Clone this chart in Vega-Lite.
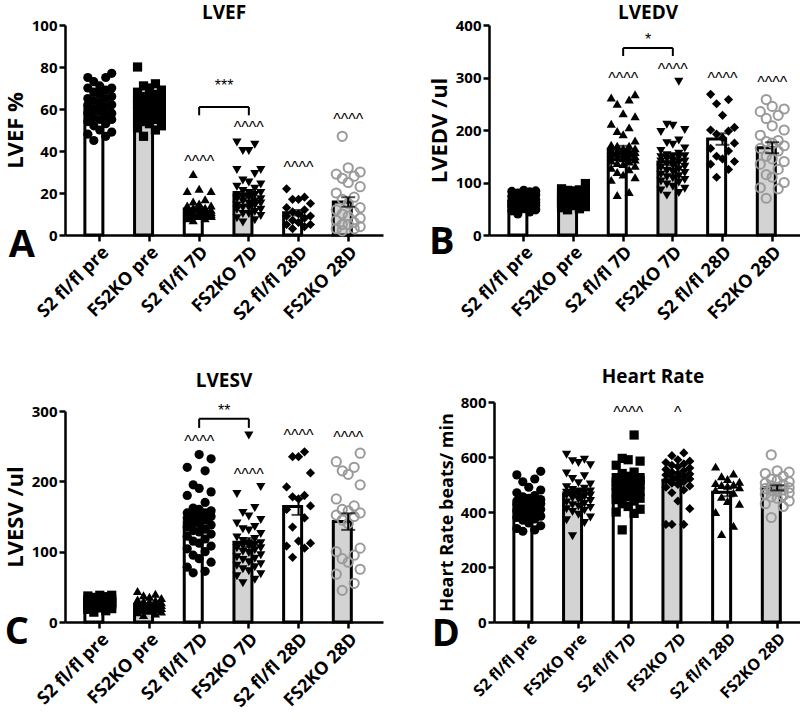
{
"$schema": "https://vega.github.io/schema/vega-lite/v6.json",
"padding": {"left": 4, "top": 4, "right": 0, "bottom": 0},
"config": {
 "font": "Open Sans",
 "view": {"stroke": null},
 "scale": {"bandPaddingInner": 0.4, "bandPaddingOuter": 0.4, "bandWithNestedOffsetPaddingInner": 0.4, "bandWithNestedOffsetPaddingOuter": 0.4, "offsetBandPaddingInner": 0, "offsetBandPaddingOuter": 0},
 "axis": {"grid": false, "domainColor": "black", "domainWidth": 2.5, "tickColor": "black", "tickWidth": 2.5, "tickSize": 6, "labelColor": "black", "labelFontWeight": "bold", "labelFontSize": 15, "labelFont": "Open Sans", "titleColor": "black", "titleFontWeight": "bold", "titleFontSize": 22, "titleFont": "Open Sans", "titlePadding": 4, "labelOverlap": false},
 "title": {"fontSize": 19, "fontWeight": "bold", "color": "black", "font": "Open Sans"}
},
"datasets": {
 "pts": [
{"p":"A","g":"S2 fl/fl pre","v":77},{"p":"A","g":"S2 fl/fl pre","v":75},{"p":"A","g":"S2 fl/fl pre","v":75},{"p":"A","g":"S2 fl/fl pre","v":73},{"p":"A","g":"S2 fl/fl pre","v":71},{"p":"A","g":"S2 fl/fl pre","v":70},{"p":"A","g":"S2 fl/fl pre","v":70},{"p":"A","g":"S2 fl/fl pre","v":69},{"p":"A","g":"S2 fl/fl pre","v":68},{"p":"A","g":"S2 fl/fl pre","v":67},{"p":"A","g":"S2 fl/fl pre","v":66},{"p":"A","g":"S2 fl/fl pre","v":65},{"p":"A","g":"S2 fl/fl pre","v":65},{"p":"A","g":"S2 fl/fl pre","v":64},{"p":"A","g":"S2 fl/fl pre","v":63},{"p":"A","g":"S2 fl/fl pre","v":62},{"p":"A","g":"S2 fl/fl pre","v":62},{"p":"A","g":"S2 fl/fl pre","v":61},{"p":"A","g":"S2 fl/fl pre","v":60},{"p":"A","g":"S2 fl/fl pre","v":59},{"p":"A","g":"S2 fl/fl pre","v":58},{"p":"A","g":"S2 fl/fl pre","v":58},{"p":"A","g":"S2 fl/fl pre","v":57},{"p":"A","g":"S2 fl/fl pre","v":56},{"p":"A","g":"S2 fl/fl pre","v":55},{"p":"A","g":"S2 fl/fl pre","v":55},{"p":"A","g":"S2 fl/fl pre","v":54},{"p":"A","g":"S2 fl/fl pre","v":53},{"p":"A","g":"S2 fl/fl pre","v":52},{"p":"A","g":"S2 fl/fl pre","v":50},{"p":"A","g":"S2 fl/fl pre","v":49},{"p":"A","g":"S2 fl/fl pre","v":48},{"p":"A","g":"S2 fl/fl pre","v":47},{"p":"A","g":"S2 fl/fl pre","v":45},
{"p":"A","g":"FS2KO pre","v":80},{"p":"A","g":"FS2KO pre","v":72},{"p":"A","g":"FS2KO pre","v":71},{"p":"A","g":"FS2KO pre","v":70},{"p":"A","g":"FS2KO pre","v":69},{"p":"A","g":"FS2KO pre","v":68},{"p":"A","g":"FS2KO pre","v":67},{"p":"A","g":"FS2KO pre","v":66},{"p":"A","g":"FS2KO pre","v":66},{"p":"A","g":"FS2KO pre","v":65},{"p":"A","g":"FS2KO pre","v":64},{"p":"A","g":"FS2KO pre","v":64},{"p":"A","g":"FS2KO pre","v":63},{"p":"A","g":"FS2KO pre","v":63},{"p":"A","g":"FS2KO pre","v":62},{"p":"A","g":"FS2KO pre","v":62},{"p":"A","g":"FS2KO pre","v":61},{"p":"A","g":"FS2KO pre","v":61},{"p":"A","g":"FS2KO pre","v":60},{"p":"A","g":"FS2KO pre","v":60},{"p":"A","g":"FS2KO pre","v":59},{"p":"A","g":"FS2KO pre","v":58},{"p":"A","g":"FS2KO pre","v":58},{"p":"A","g":"FS2KO pre","v":57},{"p":"A","g":"FS2KO pre","v":56},{"p":"A","g":"FS2KO pre","v":55},{"p":"A","g":"FS2KO pre","v":55},{"p":"A","g":"FS2KO pre","v":54},{"p":"A","g":"FS2KO pre","v":53},{"p":"A","g":"FS2KO pre","v":52},{"p":"A","g":"FS2KO pre","v":51},{"p":"A","g":"FS2KO pre","v":50},{"p":"A","g":"FS2KO pre","v":47},
{"p":"A","g":"S2 fl/fl 7D","v":29},{"p":"A","g":"S2 fl/fl 7D","v":22},{"p":"A","g":"S2 fl/fl 7D","v":21},{"p":"A","g":"S2 fl/fl 7D","v":21},{"p":"A","g":"S2 fl/fl 7D","v":17},{"p":"A","g":"S2 fl/fl 7D","v":16},{"p":"A","g":"S2 fl/fl 7D","v":15},{"p":"A","g":"S2 fl/fl 7D","v":14},{"p":"A","g":"S2 fl/fl 7D","v":14},{"p":"A","g":"S2 fl/fl 7D","v":13},{"p":"A","g":"S2 fl/fl 7D","v":13},{"p":"A","g":"S2 fl/fl 7D","v":13},{"p":"A","g":"S2 fl/fl 7D","v":12},{"p":"A","g":"S2 fl/fl 7D","v":12},{"p":"A","g":"S2 fl/fl 7D","v":12},{"p":"A","g":"S2 fl/fl 7D","v":12},{"p":"A","g":"S2 fl/fl 7D","v":11},{"p":"A","g":"S2 fl/fl 7D","v":11},{"p":"A","g":"S2 fl/fl 7D","v":11},{"p":"A","g":"S2 fl/fl 7D","v":11},{"p":"A","g":"S2 fl/fl 7D","v":10},{"p":"A","g":"S2 fl/fl 7D","v":10},{"p":"A","g":"S2 fl/fl 7D","v":10},{"p":"A","g":"S2 fl/fl 7D","v":10},{"p":"A","g":"S2 fl/fl 7D","v":9},{"p":"A","g":"S2 fl/fl 7D","v":9},{"p":"A","g":"S2 fl/fl 7D","v":9},{"p":"A","g":"S2 fl/fl 7D","v":9},{"p":"A","g":"S2 fl/fl 7D","v":10},{"p":"A","g":"S2 fl/fl 7D","v":10},{"p":"A","g":"S2 fl/fl 7D","v":9},{"p":"A","g":"S2 fl/fl 7D","v":9},{"p":"A","g":"S2 fl/fl 7D","v":9},{"p":"A","g":"S2 fl/fl 7D","v":8},{"p":"A","g":"S2 fl/fl 7D","v":8},{"p":"A","g":"S2 fl/fl 7D","v":7},
{"p":"A","g":"FS2KO 7D","v":44},{"p":"A","g":"FS2KO 7D","v":43},{"p":"A","g":"FS2KO 7D","v":40},{"p":"A","g":"FS2KO 7D","v":40},{"p":"A","g":"FS2KO 7D","v":31},{"p":"A","g":"FS2KO 7D","v":31},{"p":"A","g":"FS2KO 7D","v":29},{"p":"A","g":"FS2KO 7D","v":26},{"p":"A","g":"FS2KO 7D","v":25},{"p":"A","g":"FS2KO 7D","v":24},{"p":"A","g":"FS2KO 7D","v":23},{"p":"A","g":"FS2KO 7D","v":22},{"p":"A","g":"FS2KO 7D","v":21},{"p":"A","g":"FS2KO 7D","v":20},{"p":"A","g":"FS2KO 7D","v":20},{"p":"A","g":"FS2KO 7D","v":19},{"p":"A","g":"FS2KO 7D","v":19},{"p":"A","g":"FS2KO 7D","v":18},{"p":"A","g":"FS2KO 7D","v":18},{"p":"A","g":"FS2KO 7D","v":17},{"p":"A","g":"FS2KO 7D","v":17},{"p":"A","g":"FS2KO 7D","v":16},{"p":"A","g":"FS2KO 7D","v":16},{"p":"A","g":"FS2KO 7D","v":15},{"p":"A","g":"FS2KO 7D","v":15},{"p":"A","g":"FS2KO 7D","v":14},{"p":"A","g":"FS2KO 7D","v":14},{"p":"A","g":"FS2KO 7D","v":13},{"p":"A","g":"FS2KO 7D","v":13},{"p":"A","g":"FS2KO 7D","v":12},{"p":"A","g":"FS2KO 7D","v":12},{"p":"A","g":"FS2KO 7D","v":11},{"p":"A","g":"FS2KO 7D","v":10},{"p":"A","g":"FS2KO 7D","v":10},{"p":"A","g":"FS2KO 7D","v":9},{"p":"A","g":"FS2KO 7D","v":8},{"p":"A","g":"FS2KO 7D","v":7},{"p":"A","g":"FS2KO 7D","v":6},
{"p":"A","g":"S2 fl/fl 28D","v":22},{"p":"A","g":"S2 fl/fl 28D","v":18},{"p":"A","g":"S2 fl/fl 28D","v":17},{"p":"A","g":"S2 fl/fl 28D","v":17},{"p":"A","g":"S2 fl/fl 28D","v":15},{"p":"A","g":"S2 fl/fl 28D","v":13},{"p":"A","g":"S2 fl/fl 28D","v":12},{"p":"A","g":"S2 fl/fl 28D","v":11},{"p":"A","g":"S2 fl/fl 28D","v":10},{"p":"A","g":"S2 fl/fl 28D","v":9},{"p":"A","g":"S2 fl/fl 28D","v":9},{"p":"A","g":"S2 fl/fl 28D","v":8},{"p":"A","g":"S2 fl/fl 28D","v":7},{"p":"A","g":"S2 fl/fl 28D","v":6},{"p":"A","g":"S2 fl/fl 28D","v":5},{"p":"A","g":"S2 fl/fl 28D","v":5},{"p":"A","g":"S2 fl/fl 28D","v":4},{"p":"A","g":"S2 fl/fl 28D","v":3},
{"p":"A","g":"FS2KO 28D","v":47},{"p":"A","g":"FS2KO 28D","v":32},{"p":"A","g":"FS2KO 28D","v":30},{"p":"A","g":"FS2KO 28D","v":29},{"p":"A","g":"FS2KO 28D","v":28},{"p":"A","g":"FS2KO 28D","v":27},{"p":"A","g":"FS2KO 28D","v":25},{"p":"A","g":"FS2KO 28D","v":23},{"p":"A","g":"FS2KO 28D","v":20},{"p":"A","g":"FS2KO 28D","v":18},{"p":"A","g":"FS2KO 28D","v":17},{"p":"A","g":"FS2KO 28D","v":15},{"p":"A","g":"FS2KO 28D","v":13},{"p":"A","g":"FS2KO 28D","v":12},{"p":"A","g":"FS2KO 28D","v":11},{"p":"A","g":"FS2KO 28D","v":10},{"p":"A","g":"FS2KO 28D","v":9},{"p":"A","g":"FS2KO 28D","v":8},{"p":"A","g":"FS2KO 28D","v":7},{"p":"A","g":"FS2KO 28D","v":6},{"p":"A","g":"FS2KO 28D","v":5},{"p":"A","g":"FS2KO 28D","v":5},{"p":"A","g":"FS2KO 28D","v":4},{"p":"A","g":"FS2KO 28D","v":3},{"p":"A","g":"FS2KO 28D","v":3},{"p":"A","g":"FS2KO 28D","v":2},
{"p":"B","g":"S2 fl/fl pre","v":85},{"p":"B","g":"S2 fl/fl pre","v":84},{"p":"B","g":"S2 fl/fl pre","v":83},{"p":"B","g":"S2 fl/fl pre","v":82},{"p":"B","g":"S2 fl/fl pre","v":80},{"p":"B","g":"S2 fl/fl pre","v":78},{"p":"B","g":"S2 fl/fl pre","v":76},{"p":"B","g":"S2 fl/fl pre","v":74},{"p":"B","g":"S2 fl/fl pre","v":72},{"p":"B","g":"S2 fl/fl pre","v":70},{"p":"B","g":"S2 fl/fl pre","v":69},{"p":"B","g":"S2 fl/fl pre","v":67},{"p":"B","g":"S2 fl/fl pre","v":66},{"p":"B","g":"S2 fl/fl pre","v":65},{"p":"B","g":"S2 fl/fl pre","v":64},{"p":"B","g":"S2 fl/fl pre","v":63},{"p":"B","g":"S2 fl/fl pre","v":62},{"p":"B","g":"S2 fl/fl pre","v":61},{"p":"B","g":"S2 fl/fl pre","v":60},{"p":"B","g":"S2 fl/fl pre","v":58},{"p":"B","g":"S2 fl/fl pre","v":57},{"p":"B","g":"S2 fl/fl pre","v":56},{"p":"B","g":"S2 fl/fl pre","v":55},{"p":"B","g":"S2 fl/fl pre","v":54},{"p":"B","g":"S2 fl/fl pre","v":52},{"p":"B","g":"S2 fl/fl pre","v":50},{"p":"B","g":"S2 fl/fl pre","v":48},{"p":"B","g":"S2 fl/fl pre","v":46},{"p":"B","g":"S2 fl/fl pre","v":44},{"p":"B","g":"S2 fl/fl pre","v":40},
{"p":"B","g":"FS2KO pre","v":98},{"p":"B","g":"FS2KO pre","v":88},{"p":"B","g":"FS2KO pre","v":86},{"p":"B","g":"FS2KO pre","v":85},{"p":"B","g":"FS2KO pre","v":84},{"p":"B","g":"FS2KO pre","v":82},{"p":"B","g":"FS2KO pre","v":80},{"p":"B","g":"FS2KO pre","v":78},{"p":"B","g":"FS2KO pre","v":76},{"p":"B","g":"FS2KO pre","v":75},{"p":"B","g":"FS2KO pre","v":74},{"p":"B","g":"FS2KO pre","v":72},{"p":"B","g":"FS2KO pre","v":71},{"p":"B","g":"FS2KO pre","v":70},{"p":"B","g":"FS2KO pre","v":68},{"p":"B","g":"FS2KO pre","v":67},{"p":"B","g":"FS2KO pre","v":66},{"p":"B","g":"FS2KO pre","v":65},{"p":"B","g":"FS2KO pre","v":64},{"p":"B","g":"FS2KO pre","v":63},{"p":"B","g":"FS2KO pre","v":62},{"p":"B","g":"FS2KO pre","v":61},{"p":"B","g":"FS2KO pre","v":60},{"p":"B","g":"FS2KO pre","v":58},{"p":"B","g":"FS2KO pre","v":56},{"p":"B","g":"FS2KO pre","v":54},{"p":"B","g":"FS2KO pre","v":52},{"p":"B","g":"FS2KO pre","v":50},{"p":"B","g":"FS2KO pre","v":48},
{"p":"B","g":"S2 fl/fl 7D","v":268},{"p":"B","g":"S2 fl/fl 7D","v":262},{"p":"B","g":"S2 fl/fl 7D","v":258},{"p":"B","g":"S2 fl/fl 7D","v":250},{"p":"B","g":"S2 fl/fl 7D","v":232},{"p":"B","g":"S2 fl/fl 7D","v":226},{"p":"B","g":"S2 fl/fl 7D","v":212},{"p":"B","g":"S2 fl/fl 7D","v":205},{"p":"B","g":"S2 fl/fl 7D","v":198},{"p":"B","g":"S2 fl/fl 7D","v":192},{"p":"B","g":"S2 fl/fl 7D","v":180},{"p":"B","g":"S2 fl/fl 7D","v":172},{"p":"B","g":"S2 fl/fl 7D","v":170},{"p":"B","g":"S2 fl/fl 7D","v":170},{"p":"B","g":"S2 fl/fl 7D","v":165},{"p":"B","g":"S2 fl/fl 7D","v":165},{"p":"B","g":"S2 fl/fl 7D","v":160},{"p":"B","g":"S2 fl/fl 7D","v":155},{"p":"B","g":"S2 fl/fl 7D","v":150},{"p":"B","g":"S2 fl/fl 7D","v":148},{"p":"B","g":"S2 fl/fl 7D","v":163},{"p":"B","g":"S2 fl/fl 7D","v":162},{"p":"B","g":"S2 fl/fl 7D","v":160},{"p":"B","g":"S2 fl/fl 7D","v":158},{"p":"B","g":"S2 fl/fl 7D","v":156},{"p":"B","g":"S2 fl/fl 7D","v":155},{"p":"B","g":"S2 fl/fl 7D","v":153},{"p":"B","g":"S2 fl/fl 7D","v":150},{"p":"B","g":"S2 fl/fl 7D","v":148},{"p":"B","g":"S2 fl/fl 7D","v":146},{"p":"B","g":"S2 fl/fl 7D","v":144},{"p":"B","g":"S2 fl/fl 7D","v":142},{"p":"B","g":"S2 fl/fl 7D","v":140},{"p":"B","g":"S2 fl/fl 7D","v":137},{"p":"B","g":"S2 fl/fl 7D","v":135},{"p":"B","g":"S2 fl/fl 7D","v":132},{"p":"B","g":"S2 fl/fl 7D","v":128},{"p":"B","g":"S2 fl/fl 7D","v":125},{"p":"B","g":"S2 fl/fl 7D","v":120},{"p":"B","g":"S2 fl/fl 7D","v":115},{"p":"B","g":"S2 fl/fl 7D","v":110},{"p":"B","g":"S2 fl/fl 7D","v":105},{"p":"B","g":"S2 fl/fl 7D","v":82},{"p":"B","g":"S2 fl/fl 7D","v":76},
{"p":"B","g":"FS2KO 7D","v":292},{"p":"B","g":"FS2KO 7D","v":210},{"p":"B","g":"FS2KO 7D","v":208},{"p":"B","g":"FS2KO 7D","v":200},{"p":"B","g":"FS2KO 7D","v":196},{"p":"B","g":"FS2KO 7D","v":180},{"p":"B","g":"FS2KO 7D","v":175},{"p":"B","g":"FS2KO 7D","v":172},{"p":"B","g":"FS2KO 7D","v":165},{"p":"B","g":"FS2KO 7D","v":160},{"p":"B","g":"FS2KO 7D","v":155},{"p":"B","g":"FS2KO 7D","v":150},{"p":"B","g":"FS2KO 7D","v":148},{"p":"B","g":"FS2KO 7D","v":140},{"p":"B","g":"FS2KO 7D","v":152},{"p":"B","g":"FS2KO 7D","v":150},{"p":"B","g":"FS2KO 7D","v":148},{"p":"B","g":"FS2KO 7D","v":145},{"p":"B","g":"FS2KO 7D","v":142},{"p":"B","g":"FS2KO 7D","v":140},{"p":"B","g":"FS2KO 7D","v":138},{"p":"B","g":"FS2KO 7D","v":135},{"p":"B","g":"FS2KO 7D","v":132},{"p":"B","g":"FS2KO 7D","v":130},{"p":"B","g":"FS2KO 7D","v":128},{"p":"B","g":"FS2KO 7D","v":125},{"p":"B","g":"FS2KO 7D","v":122},{"p":"B","g":"FS2KO 7D","v":120},{"p":"B","g":"FS2KO 7D","v":118},{"p":"B","g":"FS2KO 7D","v":115},{"p":"B","g":"FS2KO 7D","v":112},{"p":"B","g":"FS2KO 7D","v":110},{"p":"B","g":"FS2KO 7D","v":108},{"p":"B","g":"FS2KO 7D","v":105},{"p":"B","g":"FS2KO 7D","v":102},{"p":"B","g":"FS2KO 7D","v":100},{"p":"B","g":"FS2KO 7D","v":96},{"p":"B","g":"FS2KO 7D","v":92},{"p":"B","g":"FS2KO 7D","v":88},{"p":"B","g":"FS2KO 7D","v":85},{"p":"B","g":"FS2KO 7D","v":80},{"p":"B","g":"FS2KO 7D","v":75},
{"p":"B","g":"S2 fl/fl 28D","v":268},{"p":"B","g":"S2 fl/fl 28D","v":258},{"p":"B","g":"S2 fl/fl 28D","v":250},{"p":"B","g":"S2 fl/fl 28D","v":228},{"p":"B","g":"S2 fl/fl 28D","v":205},{"p":"B","g":"S2 fl/fl 28D","v":200},{"p":"B","g":"S2 fl/fl 28D","v":198},{"p":"B","g":"S2 fl/fl 28D","v":192},{"p":"B","g":"S2 fl/fl 28D","v":185},{"p":"B","g":"S2 fl/fl 28D","v":175},{"p":"B","g":"S2 fl/fl 28D","v":165},{"p":"B","g":"S2 fl/fl 28D","v":160},{"p":"B","g":"S2 fl/fl 28D","v":150},{"p":"B","g":"S2 fl/fl 28D","v":145},{"p":"B","g":"S2 fl/fl 28D","v":140},{"p":"B","g":"S2 fl/fl 28D","v":135},{"p":"B","g":"S2 fl/fl 28D","v":125},{"p":"B","g":"S2 fl/fl 28D","v":110},
{"p":"B","g":"FS2KO 28D","v":258},{"p":"B","g":"FS2KO 28D","v":245},{"p":"B","g":"FS2KO 28D","v":240},{"p":"B","g":"FS2KO 28D","v":235},{"p":"B","g":"FS2KO 28D","v":228},{"p":"B","g":"FS2KO 28D","v":222},{"p":"B","g":"FS2KO 28D","v":208},{"p":"B","g":"FS2KO 28D","v":200},{"p":"B","g":"FS2KO 28D","v":190},{"p":"B","g":"FS2KO 28D","v":180},{"p":"B","g":"FS2KO 28D","v":178},{"p":"B","g":"FS2KO 28D","v":175},{"p":"B","g":"FS2KO 28D","v":170},{"p":"B","g":"FS2KO 28D","v":165},{"p":"B","g":"FS2KO 28D","v":160},{"p":"B","g":"FS2KO 28D","v":150},{"p":"B","g":"FS2KO 28D","v":145},{"p":"B","g":"FS2KO 28D","v":140},{"p":"B","g":"FS2KO 28D","v":135},{"p":"B","g":"FS2KO 28D","v":125},{"p":"B","g":"FS2KO 28D","v":115},{"p":"B","g":"FS2KO 28D","v":110},{"p":"B","g":"FS2KO 28D","v":100},{"p":"B","g":"FS2KO 28D","v":90},{"p":"B","g":"FS2KO 28D","v":88},{"p":"B","g":"FS2KO 28D","v":70},
{"p":"C","g":"S2 fl/fl pre","v":38},{"p":"C","g":"S2 fl/fl pre","v":38},{"p":"C","g":"S2 fl/fl pre","v":37},{"p":"C","g":"S2 fl/fl pre","v":36},{"p":"C","g":"S2 fl/fl pre","v":35},{"p":"C","g":"S2 fl/fl pre","v":34},{"p":"C","g":"S2 fl/fl pre","v":33},{"p":"C","g":"S2 fl/fl pre","v":32},{"p":"C","g":"S2 fl/fl pre","v":31},{"p":"C","g":"S2 fl/fl pre","v":30},{"p":"C","g":"S2 fl/fl pre","v":30},{"p":"C","g":"S2 fl/fl pre","v":29},{"p":"C","g":"S2 fl/fl pre","v":29},{"p":"C","g":"S2 fl/fl pre","v":28},{"p":"C","g":"S2 fl/fl pre","v":28},{"p":"C","g":"S2 fl/fl pre","v":27},{"p":"C","g":"S2 fl/fl pre","v":27},{"p":"C","g":"S2 fl/fl pre","v":26},{"p":"C","g":"S2 fl/fl pre","v":26},{"p":"C","g":"S2 fl/fl pre","v":25},{"p":"C","g":"S2 fl/fl pre","v":25},{"p":"C","g":"S2 fl/fl pre","v":24},{"p":"C","g":"S2 fl/fl pre","v":23},{"p":"C","g":"S2 fl/fl pre","v":22},{"p":"C","g":"S2 fl/fl pre","v":21},{"p":"C","g":"S2 fl/fl pre","v":20},{"p":"C","g":"S2 fl/fl pre","v":19},{"p":"C","g":"S2 fl/fl pre","v":18},{"p":"C","g":"S2 fl/fl pre","v":16},{"p":"C","g":"S2 fl/fl pre","v":14},
{"p":"C","g":"FS2KO pre","v":44},{"p":"C","g":"FS2KO pre","v":40},{"p":"C","g":"FS2KO pre","v":38},{"p":"C","g":"FS2KO pre","v":36},{"p":"C","g":"FS2KO pre","v":34},{"p":"C","g":"FS2KO pre","v":32},{"p":"C","g":"FS2KO pre","v":31},{"p":"C","g":"FS2KO pre","v":30},{"p":"C","g":"FS2KO pre","v":29},{"p":"C","g":"FS2KO pre","v":28},{"p":"C","g":"FS2KO pre","v":27},{"p":"C","g":"FS2KO pre","v":26},{"p":"C","g":"FS2KO pre","v":25},{"p":"C","g":"FS2KO pre","v":25},{"p":"C","g":"FS2KO pre","v":24},{"p":"C","g":"FS2KO pre","v":23},{"p":"C","g":"FS2KO pre","v":22},{"p":"C","g":"FS2KO pre","v":22},{"p":"C","g":"FS2KO pre","v":21},{"p":"C","g":"FS2KO pre","v":20},{"p":"C","g":"FS2KO pre","v":19},{"p":"C","g":"FS2KO pre","v":18},{"p":"C","g":"FS2KO pre","v":17},{"p":"C","g":"FS2KO pre","v":16},{"p":"C","g":"FS2KO pre","v":15},{"p":"C","g":"FS2KO pre","v":14},{"p":"C","g":"FS2KO pre","v":12},{"p":"C","g":"FS2KO pre","v":10},
{"p":"C","g":"S2 fl/fl 7D","v":238},{"p":"C","g":"S2 fl/fl 7D","v":232},{"p":"C","g":"S2 fl/fl 7D","v":220},{"p":"C","g":"S2 fl/fl 7D","v":215},{"p":"C","g":"S2 fl/fl 7D","v":195},{"p":"C","g":"S2 fl/fl 7D","v":190},{"p":"C","g":"S2 fl/fl 7D","v":185},{"p":"C","g":"S2 fl/fl 7D","v":180},{"p":"C","g":"S2 fl/fl 7D","v":170},{"p":"C","g":"S2 fl/fl 7D","v":162},{"p":"C","g":"S2 fl/fl 7D","v":160},{"p":"C","g":"S2 fl/fl 7D","v":155},{"p":"C","g":"S2 fl/fl 7D","v":150},{"p":"C","g":"S2 fl/fl 7D","v":158},{"p":"C","g":"S2 fl/fl 7D","v":155},{"p":"C","g":"S2 fl/fl 7D","v":152},{"p":"C","g":"S2 fl/fl 7D","v":150},{"p":"C","g":"S2 fl/fl 7D","v":148},{"p":"C","g":"S2 fl/fl 7D","v":145},{"p":"C","g":"S2 fl/fl 7D","v":142},{"p":"C","g":"S2 fl/fl 7D","v":140},{"p":"C","g":"S2 fl/fl 7D","v":138},{"p":"C","g":"S2 fl/fl 7D","v":135},{"p":"C","g":"S2 fl/fl 7D","v":132},{"p":"C","g":"S2 fl/fl 7D","v":130},{"p":"C","g":"S2 fl/fl 7D","v":128},{"p":"C","g":"S2 fl/fl 7D","v":125},{"p":"C","g":"S2 fl/fl 7D","v":122},{"p":"C","g":"S2 fl/fl 7D","v":118},{"p":"C","g":"S2 fl/fl 7D","v":115},{"p":"C","g":"S2 fl/fl 7D","v":112},{"p":"C","g":"S2 fl/fl 7D","v":108},{"p":"C","g":"S2 fl/fl 7D","v":104},{"p":"C","g":"S2 fl/fl 7D","v":100},{"p":"C","g":"S2 fl/fl 7D","v":95},{"p":"C","g":"S2 fl/fl 7D","v":90},{"p":"C","g":"S2 fl/fl 7D","v":85},{"p":"C","g":"S2 fl/fl 7D","v":78},{"p":"C","g":"S2 fl/fl 7D","v":72},{"p":"C","g":"S2 fl/fl 7D","v":70},
{"p":"C","g":"FS2KO 7D","v":265},{"p":"C","g":"FS2KO 7D","v":192},{"p":"C","g":"FS2KO 7D","v":182},{"p":"C","g":"FS2KO 7D","v":162},{"p":"C","g":"FS2KO 7D","v":155},{"p":"C","g":"FS2KO 7D","v":150},{"p":"C","g":"FS2KO 7D","v":145},{"p":"C","g":"FS2KO 7D","v":140},{"p":"C","g":"FS2KO 7D","v":135},{"p":"C","g":"FS2KO 7D","v":132},{"p":"C","g":"FS2KO 7D","v":130},{"p":"C","g":"FS2KO 7D","v":125},{"p":"C","g":"FS2KO 7D","v":120},{"p":"C","g":"FS2KO 7D","v":118},{"p":"C","g":"FS2KO 7D","v":115},{"p":"C","g":"FS2KO 7D","v":112},{"p":"C","g":"FS2KO 7D","v":110},{"p":"C","g":"FS2KO 7D","v":108},{"p":"C","g":"FS2KO 7D","v":105},{"p":"C","g":"FS2KO 7D","v":112},{"p":"C","g":"FS2KO 7D","v":110},{"p":"C","g":"FS2KO 7D","v":108},{"p":"C","g":"FS2KO 7D","v":105},{"p":"C","g":"FS2KO 7D","v":102},{"p":"C","g":"FS2KO 7D","v":100},{"p":"C","g":"FS2KO 7D","v":98},{"p":"C","g":"FS2KO 7D","v":95},{"p":"C","g":"FS2KO 7D","v":92},{"p":"C","g":"FS2KO 7D","v":90},{"p":"C","g":"FS2KO 7D","v":88},{"p":"C","g":"FS2KO 7D","v":85},{"p":"C","g":"FS2KO 7D","v":82},{"p":"C","g":"FS2KO 7D","v":80},{"p":"C","g":"FS2KO 7D","v":78},{"p":"C","g":"FS2KO 7D","v":75},{"p":"C","g":"FS2KO 7D","v":72},{"p":"C","g":"FS2KO 7D","v":68},{"p":"C","g":"FS2KO 7D","v":65},{"p":"C","g":"FS2KO 7D","v":60},{"p":"C","g":"FS2KO 7D","v":55},
{"p":"C","g":"S2 fl/fl 28D","v":242},{"p":"C","g":"S2 fl/fl 28D","v":235},{"p":"C","g":"S2 fl/fl 28D","v":235},{"p":"C","g":"S2 fl/fl 28D","v":212},{"p":"C","g":"S2 fl/fl 28D","v":192},{"p":"C","g":"S2 fl/fl 28D","v":180},{"p":"C","g":"S2 fl/fl 28D","v":178},{"p":"C","g":"S2 fl/fl 28D","v":175},{"p":"C","g":"S2 fl/fl 28D","v":165},{"p":"C","g":"S2 fl/fl 28D","v":160},{"p":"C","g":"S2 fl/fl 28D","v":148},{"p":"C","g":"S2 fl/fl 28D","v":135},{"p":"C","g":"S2 fl/fl 28D","v":115},{"p":"C","g":"S2 fl/fl 28D","v":112},{"p":"C","g":"S2 fl/fl 28D","v":108},{"p":"C","g":"S2 fl/fl 28D","v":105},{"p":"C","g":"S2 fl/fl 28D","v":92},
{"p":"C","g":"FS2KO 28D","v":240},{"p":"C","g":"FS2KO 28D","v":228},{"p":"C","g":"FS2KO 28D","v":220},{"p":"C","g":"FS2KO 28D","v":215},{"p":"C","g":"FS2KO 28D","v":210},{"p":"C","g":"FS2KO 28D","v":195},{"p":"C","g":"FS2KO 28D","v":175},{"p":"C","g":"FS2KO 28D","v":165},{"p":"C","g":"FS2KO 28D","v":160},{"p":"C","g":"FS2KO 28D","v":158},{"p":"C","g":"FS2KO 28D","v":155},{"p":"C","g":"FS2KO 28D","v":152},{"p":"C","g":"FS2KO 28D","v":150},{"p":"C","g":"FS2KO 28D","v":145},{"p":"C","g":"FS2KO 28D","v":140},{"p":"C","g":"FS2KO 28D","v":105},{"p":"C","g":"FS2KO 28D","v":100},{"p":"C","g":"FS2KO 28D","v":95},{"p":"C","g":"FS2KO 28D","v":90},{"p":"C","g":"FS2KO 28D","v":85},{"p":"C","g":"FS2KO 28D","v":75},{"p":"C","g":"FS2KO 28D","v":68},{"p":"C","g":"FS2KO 28D","v":55},{"p":"C","g":"FS2KO 28D","v":45},
{"p":"D","g":"S2 fl/fl pre","v":548},{"p":"D","g":"S2 fl/fl pre","v":535},{"p":"D","g":"S2 fl/fl pre","v":520},{"p":"D","g":"S2 fl/fl pre","v":510},{"p":"D","g":"S2 fl/fl pre","v":490},{"p":"D","g":"S2 fl/fl pre","v":480},{"p":"D","g":"S2 fl/fl pre","v":470},{"p":"D","g":"S2 fl/fl pre","v":460},{"p":"D","g":"S2 fl/fl pre","v":455},{"p":"D","g":"S2 fl/fl pre","v":450},{"p":"D","g":"S2 fl/fl pre","v":445},{"p":"D","g":"S2 fl/fl pre","v":440},{"p":"D","g":"S2 fl/fl pre","v":435},{"p":"D","g":"S2 fl/fl pre","v":430},{"p":"D","g":"S2 fl/fl pre","v":440},{"p":"D","g":"S2 fl/fl pre","v":435},{"p":"D","g":"S2 fl/fl pre","v":430},{"p":"D","g":"S2 fl/fl pre","v":425},{"p":"D","g":"S2 fl/fl pre","v":420},{"p":"D","g":"S2 fl/fl pre","v":415},{"p":"D","g":"S2 fl/fl pre","v":410},{"p":"D","g":"S2 fl/fl pre","v":405},{"p":"D","g":"S2 fl/fl pre","v":400},{"p":"D","g":"S2 fl/fl pre","v":395},{"p":"D","g":"S2 fl/fl pre","v":390},{"p":"D","g":"S2 fl/fl pre","v":385},{"p":"D","g":"S2 fl/fl pre","v":380},{"p":"D","g":"S2 fl/fl pre","v":375},{"p":"D","g":"S2 fl/fl pre","v":370},{"p":"D","g":"S2 fl/fl pre","v":360},{"p":"D","g":"S2 fl/fl pre","v":350},{"p":"D","g":"S2 fl/fl pre","v":340},{"p":"D","g":"S2 fl/fl pre","v":335},{"p":"D","g":"S2 fl/fl pre","v":330},
{"p":"D","g":"FS2KO pre","v":608},{"p":"D","g":"FS2KO pre","v":590},{"p":"D","g":"FS2KO pre","v":585},{"p":"D","g":"FS2KO pre","v":578},{"p":"D","g":"FS2KO pre","v":570},{"p":"D","g":"FS2KO pre","v":540},{"p":"D","g":"FS2KO pre","v":530},{"p":"D","g":"FS2KO pre","v":520},{"p":"D","g":"FS2KO pre","v":505},{"p":"D","g":"FS2KO pre","v":500},{"p":"D","g":"FS2KO pre","v":490},{"p":"D","g":"FS2KO pre","v":485},{"p":"D","g":"FS2KO pre","v":480},{"p":"D","g":"FS2KO pre","v":475},{"p":"D","g":"FS2KO pre","v":470},{"p":"D","g":"FS2KO pre","v":465},{"p":"D","g":"FS2KO pre","v":460},{"p":"D","g":"FS2KO pre","v":475},{"p":"D","g":"FS2KO pre","v":470},{"p":"D","g":"FS2KO pre","v":465},{"p":"D","g":"FS2KO pre","v":460},{"p":"D","g":"FS2KO pre","v":455},{"p":"D","g":"FS2KO pre","v":450},{"p":"D","g":"FS2KO pre","v":445},{"p":"D","g":"FS2KO pre","v":440},{"p":"D","g":"FS2KO pre","v":435},{"p":"D","g":"FS2KO pre","v":430},{"p":"D","g":"FS2KO pre","v":425},{"p":"D","g":"FS2KO pre","v":420},{"p":"D","g":"FS2KO pre","v":415},{"p":"D","g":"FS2KO pre","v":410},{"p":"D","g":"FS2KO pre","v":405},{"p":"D","g":"FS2KO pre","v":400},{"p":"D","g":"FS2KO pre","v":390},{"p":"D","g":"FS2KO pre","v":380},{"p":"D","g":"FS2KO pre","v":370},{"p":"D","g":"FS2KO pre","v":360},{"p":"D","g":"FS2KO pre","v":312},
{"p":"D","g":"S2 fl/fl 7D","v":680},{"p":"D","g":"S2 fl/fl 7D","v":595},{"p":"D","g":"S2 fl/fl 7D","v":590},{"p":"D","g":"S2 fl/fl 7D","v":585},{"p":"D","g":"S2 fl/fl 7D","v":570},{"p":"D","g":"S2 fl/fl 7D","v":545},{"p":"D","g":"S2 fl/fl 7D","v":540},{"p":"D","g":"S2 fl/fl 7D","v":530},{"p":"D","g":"S2 fl/fl 7D","v":525},{"p":"D","g":"S2 fl/fl 7D","v":520},{"p":"D","g":"S2 fl/fl 7D","v":515},{"p":"D","g":"S2 fl/fl 7D","v":510},{"p":"D","g":"S2 fl/fl 7D","v":505},{"p":"D","g":"S2 fl/fl 7D","v":525},{"p":"D","g":"S2 fl/fl 7D","v":520},{"p":"D","g":"S2 fl/fl 7D","v":515},{"p":"D","g":"S2 fl/fl 7D","v":510},{"p":"D","g":"S2 fl/fl 7D","v":505},{"p":"D","g":"S2 fl/fl 7D","v":500},{"p":"D","g":"S2 fl/fl 7D","v":495},{"p":"D","g":"S2 fl/fl 7D","v":490},{"p":"D","g":"S2 fl/fl 7D","v":485},{"p":"D","g":"S2 fl/fl 7D","v":480},{"p":"D","g":"S2 fl/fl 7D","v":475},{"p":"D","g":"S2 fl/fl 7D","v":470},{"p":"D","g":"S2 fl/fl 7D","v":465},{"p":"D","g":"S2 fl/fl 7D","v":460},{"p":"D","g":"S2 fl/fl 7D","v":455},{"p":"D","g":"S2 fl/fl 7D","v":450},{"p":"D","g":"S2 fl/fl 7D","v":445},{"p":"D","g":"S2 fl/fl 7D","v":440},{"p":"D","g":"S2 fl/fl 7D","v":430},{"p":"D","g":"S2 fl/fl 7D","v":420},{"p":"D","g":"S2 fl/fl 7D","v":410},{"p":"D","g":"S2 fl/fl 7D","v":400},{"p":"D","g":"S2 fl/fl 7D","v":395},{"p":"D","g":"S2 fl/fl 7D","v":335},
{"p":"D","g":"FS2KO 7D","v":615},{"p":"D","g":"FS2KO 7D","v":605},{"p":"D","g":"FS2KO 7D","v":590},{"p":"D","g":"FS2KO 7D","v":585},{"p":"D","g":"FS2KO 7D","v":580},{"p":"D","g":"FS2KO 7D","v":575},{"p":"D","g":"FS2KO 7D","v":570},{"p":"D","g":"FS2KO 7D","v":565},{"p":"D","g":"FS2KO 7D","v":560},{"p":"D","g":"FS2KO 7D","v":555},{"p":"D","g":"FS2KO 7D","v":550},{"p":"D","g":"FS2KO 7D","v":545},{"p":"D","g":"FS2KO 7D","v":540},{"p":"D","g":"FS2KO 7D","v":538},{"p":"D","g":"FS2KO 7D","v":535},{"p":"D","g":"FS2KO 7D","v":530},{"p":"D","g":"FS2KO 7D","v":528},{"p":"D","g":"FS2KO 7D","v":525},{"p":"D","g":"FS2KO 7D","v":520},{"p":"D","g":"FS2KO 7D","v":515},{"p":"D","g":"FS2KO 7D","v":510},{"p":"D","g":"FS2KO 7D","v":505},{"p":"D","g":"FS2KO 7D","v":500},{"p":"D","g":"FS2KO 7D","v":495},{"p":"D","g":"FS2KO 7D","v":490},{"p":"D","g":"FS2KO 7D","v":480},{"p":"D","g":"FS2KO 7D","v":470},{"p":"D","g":"FS2KO 7D","v":440},{"p":"D","g":"FS2KO 7D","v":412},{"p":"D","g":"FS2KO 7D","v":355},{"p":"D","g":"FS2KO 7D","v":355},{"p":"D","g":"FS2KO 7D","v":355},
{"p":"D","g":"S2 fl/fl 28D","v":565},{"p":"D","g":"S2 fl/fl 28D","v":540},{"p":"D","g":"S2 fl/fl 28D","v":530},{"p":"D","g":"S2 fl/fl 28D","v":520},{"p":"D","g":"S2 fl/fl 28D","v":510},{"p":"D","g":"S2 fl/fl 28D","v":505},{"p":"D","g":"S2 fl/fl 28D","v":500},{"p":"D","g":"S2 fl/fl 28D","v":498},{"p":"D","g":"S2 fl/fl 28D","v":495},{"p":"D","g":"S2 fl/fl 28D","v":490},{"p":"D","g":"S2 fl/fl 28D","v":480},{"p":"D","g":"S2 fl/fl 28D","v":470},{"p":"D","g":"S2 fl/fl 28D","v":455},{"p":"D","g":"S2 fl/fl 28D","v":440},{"p":"D","g":"S2 fl/fl 28D","v":430},{"p":"D","g":"S2 fl/fl 28D","v":400},{"p":"D","g":"S2 fl/fl 28D","v":350},{"p":"D","g":"S2 fl/fl 28D","v":320},
{"p":"D","g":"FS2KO 28D","v":608},{"p":"D","g":"FS2KO 28D","v":550},{"p":"D","g":"FS2KO 28D","v":545},{"p":"D","g":"FS2KO 28D","v":540},{"p":"D","g":"FS2KO 28D","v":530},{"p":"D","g":"FS2KO 28D","v":520},{"p":"D","g":"FS2KO 28D","v":515},{"p":"D","g":"FS2KO 28D","v":510},{"p":"D","g":"FS2KO 28D","v":505},{"p":"D","g":"FS2KO 28D","v":500},{"p":"D","g":"FS2KO 28D","v":495},{"p":"D","g":"FS2KO 28D","v":490},{"p":"D","g":"FS2KO 28D","v":488},{"p":"D","g":"FS2KO 28D","v":485},{"p":"D","g":"FS2KO 28D","v":480},{"p":"D","g":"FS2KO 28D","v":478},{"p":"D","g":"FS2KO 28D","v":475},{"p":"D","g":"FS2KO 28D","v":470},{"p":"D","g":"FS2KO 28D","v":465},{"p":"D","g":"FS2KO 28D","v":460},{"p":"D","g":"FS2KO 28D","v":455},{"p":"D","g":"FS2KO 28D","v":450},{"p":"D","g":"FS2KO 28D","v":440},{"p":"D","g":"FS2KO 28D","v":430},{"p":"D","g":"FS2KO 28D","v":420},{"p":"D","g":"FS2KO 28D","v":380}
 ],
 "ann": [
  {"p":"A","g":"S2 fl/fl 7D","v":35,"t":"^^^^"},{"p":"A","g":"FS2KO 7D","v":51,"t":"^^^^"},{"p":"A","g":"S2 fl/fl 28D","v":32,"t":"^^^^"},{"p":"A","g":"FS2KO 28D","v":55,"t":"^^^^"},
  {"p":"B","g":"S2 fl/fl 7D","v":298,"t":"^^^^"},{"p":"B","g":"FS2KO 7D","v":315,"t":"^^^^"},{"p":"B","g":"S2 fl/fl 28D","v":298,"t":"^^^^"},{"p":"B","g":"FS2KO 28D","v":290,"t":"^^^^"},
  {"p":"C","g":"S2 fl/fl 7D","v":256,"t":"^^^^"},{"p":"C","g":"FS2KO 7D","v":209,"t":"^^^^"},{"p":"C","g":"S2 fl/fl 28D","v":265,"t":"^^^^"},{"p":"C","g":"FS2KO 28D","v":262,"t":"^^^^"},
  {"p":"D","g":"S2 fl/fl 7D","v":760,"t":"^^^^"},{"p":"D","g":"FS2KO 7D","v":760,"t":"^"}
 ],
 "brk": [
  {"p":"A","a":"S2 fl/fl 7D","b":"FS2KO 7D","y":61,"y0":57,"ty":71,"t":"***"},
  {"p":"B","a":"S2 fl/fl 7D","b":"FS2KO 7D","y":356,"y0":341,"ty":372,"t":"*"},
  {"p":"C","a":"S2 fl/fl 7D","b":"FS2KO 7D","y":289,"y0":276,"ty":300,"t":"**"}
 ]
},
"resolve": {"scale": {"shape": "independent", "xOffset": "independent"}},
"spacing": 44,
"vconcat": [
 {"hconcat": [
  {"width": 318, "height": 210, "title": {"text": "LVEF", "offset": -5},
   "layer": [
    {"data": {"name": "pts"}, "transform": [{"filter": "datum.p=='A'"}],
     "mark": {"type": "bar", "stroke": "black", "strokeWidth": 3},
     "encoding": {
      "x": {"field": "g", "type": "nominal", "scale": {"domain": ["S2 fl/fl pre","FS2KO pre","S2 fl/fl 7D","FS2KO 7D","S2 fl/fl 28D","FS2KO 28D"], "paddingInner": 0.4, "paddingOuter": 0.4}, "axis": {"title": null, "labelAngle": -45, "labelFontSize": 18}},
      "y": {"aggregate": "mean", "field": "v", "type": "quantitative", "title": "LVEF %", "scale": {"domain": [0, 100]}, "axis": {"values": [0,20,40,60,80,100]}},
      "fill": {"condition": {"test": "indexof(datum.g,'FS2KO')>=0", "value": "#d3d3d3"}, "value": "white"}}},
    {"data": {"name": "pts"}, "transform": [{"filter": "datum.p=='A' && datum.g!='FS2KO 28D'"}, {"window": [{"op": "row_number", "as": "rk"}], "groupby": ["g"], "sort": [{"field": "v"}]}, {"calculate": "[2,1,3,0,4][datum.rk % 5]", "as": "col"}],
     "mark": {"type": "point", "filled": true, "color": "black", "opacity": 1, "size": 85},
     "encoding": {"x": {"field": "g", "type": "nominal", "title": null}, "xOffset": {"field": "col", "type": "ordinal", "scale": {"domain": [0,1,2,3,4]}}, "y": {"field": "v", "type": "quantitative", "title": "LVEF %"},
      "shape": {"field": "g", "type": "nominal", "scale": {"domain": ["S2 fl/fl pre","FS2KO pre","S2 fl/fl 7D","FS2KO 7D","S2 fl/fl 28D"], "range": ["circle","square","triangle-up","triangle-down","diamond"]}, "legend": null}}},
    {"data": {"name": "pts"}, "transform": [{"filter": "datum.p=='A' && datum.g=='FS2KO 28D'"}, {"window": [{"op": "row_number", "as": "rk"}], "groupby": ["g"], "sort": [{"field": "v"}]}, {"calculate": "[2,1,3,0,4][datum.rk % 5]", "as": "col"}],
     "mark": {"type": "point", "shape": "circle", "filled": false, "stroke": "#9a9a9a", "strokeWidth": 2, "opacity": 1, "size": 85},
     "encoding": {"x": {"field": "g", "type": "nominal", "title": null}, "xOffset": {"field": "col", "type": "ordinal"}, "y": {"field": "v", "type": "quantitative", "title": "LVEF %"}}},
    {"data": {"name": "pts"}, "transform": [{"filter": "datum.p=='A'"}],
     "mark": {"type": "errorbar", "extent": "stderr", "color": "black", "thickness": 2, "ticks": {"size": 14, "thickness": 2, "color": "black"}},
     "encoding": {"x": {"field": "g", "type": "nominal", "title": null}, "y": {"field": "v", "type": "quantitative", "title": "LVEF %"}}},
    {"data": {"name": "ann"}, "transform": [{"filter": "datum.p=='A'"}],
     "mark": {"type": "text", "font": "Liberation Sans", "fontSize": 16, "color": "black", "baseline": "middle"},
     "encoding": {"x": {"field": "g", "type": "nominal", "title": null}, "y": {"field": "v", "type": "quantitative", "title": "LVEF %"}, "text": {"field": "t"}}},
    {"data": {"name": "brk"}, "transform": [{"filter": "datum.p=='A'"}],
     "mark": {"type": "rule", "color": "black", "strokeWidth": 2},
     "encoding": {"x": {"field": "a", "type": "nominal", "title": null}, "x2": {"field": "b"}, "y": {"field": "y", "type": "quantitative", "title": "LVEF %"}}},
    {"data": {"name": "brk"}, "transform": [{"filter": "datum.p=='A'"}],
     "mark": {"type": "rule", "color": "black", "strokeWidth": 2},
     "encoding": {"x": {"field": "a", "type": "nominal", "title": null}, "y": {"field": "y", "type": "quantitative", "title": "LVEF %"}, "y2": {"field": "y0"}}},
    {"data": {"name": "brk"}, "transform": [{"filter": "datum.p=='A'"}],
     "mark": {"type": "rule", "color": "black", "strokeWidth": 2},
     "encoding": {"x": {"field": "b", "type": "nominal", "title": null}, "y": {"field": "y", "type": "quantitative", "title": "LVEF %"}, "y2": {"field": "y0"}}},
    {"data": {"name": "brk"}, "transform": [{"filter": "datum.p=='A'"}],
     "mark": {"type": "text", "font": "Liberation Sans", "fontSize": 16, "color": "black", "dx": 25, "baseline": "middle"},
     "encoding": {"x": {"field": "a", "type": "nominal", "title": null}, "y": {"field": "ty", "type": "quantitative", "title": "LVEF %"}, "text": {"field": "t"}}},
    {"data": {"values": [{"t": "A"}]},
     "mark": {"type": "text", "fontSize": 38, "fontWeight": "bold", "color": "black", "dx": -78, "dy": 11, "baseline": "middle", "align": "center"},
     "encoding": {"x": {"datum": "S2 fl/fl pre"}, "y": {"datum": 0}, "text": {"field": "t"}}}
   ]},
  {"width": 318, "height": 210, "title": {"text": "LVEDV", "offset": -5},
   "layer": [
    {"data": {"name": "pts"}, "transform": [{"filter": "datum.p=='B'"}],
     "mark": {"type": "bar", "stroke": "black", "strokeWidth": 3},
     "encoding": {
      "x": {"field": "g", "type": "nominal", "scale": {"domain": ["S2 fl/fl pre","FS2KO pre","S2 fl/fl 7D","FS2KO 7D","S2 fl/fl 28D","FS2KO 28D"], "paddingInner": 0.4, "paddingOuter": 0.4}, "axis": {"title": null, "labelAngle": -45, "labelFontSize": 18}},
      "y": {"aggregate": "mean", "field": "v", "type": "quantitative", "title": "LVEDV /ul", "scale": {"domain": [0, 400]}, "axis": {"values": [0,100,200,300,400]}},
      "fill": {"condition": {"test": "indexof(datum.g,'FS2KO')>=0", "value": "#d3d3d3"}, "value": "white"}}},
    {"data": {"name": "pts"}, "transform": [{"filter": "datum.p=='B' && datum.g!='FS2KO 28D'"}, {"window": [{"op": "row_number", "as": "rk"}], "groupby": ["g"], "sort": [{"field": "v"}]}, {"calculate": "[2,1,3,0,4][datum.rk % 5]", "as": "col"}],
     "mark": {"type": "point", "filled": true, "color": "black", "opacity": 1, "size": 85},
     "encoding": {"x": {"field": "g", "type": "nominal", "title": null}, "xOffset": {"field": "col", "type": "ordinal", "scale": {"domain": [0,1,2,3,4]}}, "y": {"field": "v", "type": "quantitative", "title": "LVEDV /ul"},
      "shape": {"field": "g", "type": "nominal", "scale": {"domain": ["S2 fl/fl pre","FS2KO pre","S2 fl/fl 7D","FS2KO 7D","S2 fl/fl 28D"], "range": ["circle","square","triangle-up","triangle-down","diamond"]}, "legend": null}}},
    {"data": {"name": "pts"}, "transform": [{"filter": "datum.p=='B' && datum.g=='FS2KO 28D'"}, {"window": [{"op": "row_number", "as": "rk"}], "groupby": ["g"], "sort": [{"field": "v"}]}, {"calculate": "[2,1,3,0,4][datum.rk % 5]", "as": "col"}],
     "mark": {"type": "point", "shape": "circle", "filled": false, "stroke": "#9a9a9a", "strokeWidth": 2, "opacity": 1, "size": 85},
     "encoding": {"x": {"field": "g", "type": "nominal", "title": null}, "xOffset": {"field": "col", "type": "ordinal"}, "y": {"field": "v", "type": "quantitative", "title": "LVEDV /ul"}}},
    {"data": {"name": "pts"}, "transform": [{"filter": "datum.p=='B'"}],
     "mark": {"type": "errorbar", "extent": "stderr", "color": "black", "thickness": 2, "ticks": {"size": 14, "thickness": 2, "color": "black"}},
     "encoding": {"x": {"field": "g", "type": "nominal", "title": null}, "y": {"field": "v", "type": "quantitative", "title": "LVEDV /ul"}}},
    {"data": {"name": "ann"}, "transform": [{"filter": "datum.p=='B'"}],
     "mark": {"type": "text", "font": "Liberation Sans", "fontSize": 16, "color": "black", "baseline": "middle"},
     "encoding": {"x": {"field": "g", "type": "nominal", "title": null}, "y": {"field": "v", "type": "quantitative", "title": "LVEDV /ul"}, "text": {"field": "t"}}},
    {"data": {"name": "brk"}, "transform": [{"filter": "datum.p=='B'"}],
     "mark": {"type": "rule", "color": "black", "strokeWidth": 2},
     "encoding": {"x": {"field": "a", "type": "nominal", "title": null}, "x2": {"field": "b"}, "y": {"field": "y", "type": "quantitative", "title": "LVEDV /ul"}}},
    {"data": {"name": "brk"}, "transform": [{"filter": "datum.p=='B'"}],
     "mark": {"type": "rule", "color": "black", "strokeWidth": 2},
     "encoding": {"x": {"field": "a", "type": "nominal", "title": null}, "y": {"field": "y", "type": "quantitative", "title": "LVEDV /ul"}, "y2": {"field": "y0"}}},
    {"data": {"name": "brk"}, "transform": [{"filter": "datum.p=='B'"}],
     "mark": {"type": "rule", "color": "black", "strokeWidth": 2},
     "encoding": {"x": {"field": "b", "type": "nominal", "title": null}, "y": {"field": "y", "type": "quantitative", "title": "LVEDV /ul"}, "y2": {"field": "y0"}}},
    {"data": {"name": "brk"}, "transform": [{"filter": "datum.p=='B'"}],
     "mark": {"type": "text", "font": "Liberation Sans", "fontSize": 16, "color": "black", "dx": 25, "baseline": "middle"},
     "encoding": {"x": {"field": "a", "type": "nominal", "title": null}, "y": {"field": "ty", "type": "quantitative", "title": "LVEDV /ul"}, "text": {"field": "t"}}},
    {"data": {"values": [{"t": "B"}]},
     "mark": {"type": "text", "fontSize": 38, "fontWeight": "bold", "color": "black", "dx": -82, "dy": 8, "baseline": "middle", "align": "center"},
     "encoding": {"x": {"datum": "S2 fl/fl pre"}, "y": {"datum": 0}, "text": {"field": "t"}}}
   ]}
 ], "spacing": 45, "resolve": {"scale": {"shape": "independent", "xOffset": "independent"}}},
 {"hconcat": [
  {"width": 318, "height": 220, "title": {"text": "LVESV", "offset": 11},
   "layer": [
    {"data": {"name": "pts"}, "transform": [{"filter": "datum.p=='C'"}],
     "mark": {"type": "bar", "stroke": "black", "strokeWidth": 3},
     "encoding": {
      "x": {"field": "g", "type": "nominal", "scale": {"domain": ["S2 fl/fl pre","FS2KO pre","S2 fl/fl 7D","FS2KO 7D","S2 fl/fl 28D","FS2KO 28D"], "paddingInner": 0.4, "paddingOuter": 0.4}, "axis": {"title": null, "labelAngle": -45, "labelFontSize": 18}},
      "y": {"aggregate": "mean", "field": "v", "type": "quantitative", "title": "LVESV /ul", "scale": {"domain": [0, 300], "range": [220, 9]}, "axis": {"values": [0,100,200,300], "titlePadding": 4}},
      "fill": {"condition": {"test": "indexof(datum.g,'FS2KO')>=0", "value": "#d3d3d3"}, "value": "white"}}},
    {"data": {"name": "pts"}, "transform": [{"filter": "datum.p=='C' && datum.g!='FS2KO 28D'"}, {"window": [{"op": "row_number", "as": "rk"}], "groupby": ["g"], "sort": [{"field": "v"}]}, {"calculate": "[2,1,3,0,4][datum.rk % 5]", "as": "col"}],
     "mark": {"type": "point", "filled": true, "color": "black", "opacity": 1, "size": 85},
     "encoding": {"x": {"field": "g", "type": "nominal", "title": null}, "xOffset": {"field": "col", "type": "ordinal", "scale": {"domain": [0,1,2,3,4]}}, "y": {"field": "v", "type": "quantitative", "title": "LVESV /ul"},
      "shape": {"field": "g", "type": "nominal", "scale": {"domain": ["S2 fl/fl pre","FS2KO pre","S2 fl/fl 7D","FS2KO 7D","S2 fl/fl 28D"], "range": ["square","triangle-up","circle","triangle-down","diamond"]}, "legend": null}}},
    {"data": {"name": "pts"}, "transform": [{"filter": "datum.p=='C' && datum.g=='FS2KO 28D'"}, {"window": [{"op": "row_number", "as": "rk"}], "groupby": ["g"], "sort": [{"field": "v"}]}, {"calculate": "[2,1,3,0,4][datum.rk % 5]", "as": "col"}],
     "mark": {"type": "point", "shape": "circle", "filled": false, "stroke": "#9a9a9a", "strokeWidth": 2, "opacity": 1, "size": 85},
     "encoding": {"x": {"field": "g", "type": "nominal", "title": null}, "xOffset": {"field": "col", "type": "ordinal"}, "y": {"field": "v", "type": "quantitative", "title": "LVESV /ul"}}},
    {"data": {"name": "pts"}, "transform": [{"filter": "datum.p=='C'"}],
     "mark": {"type": "errorbar", "extent": "stderr", "color": "black", "thickness": 2, "ticks": {"size": 14, "thickness": 2, "color": "black"}},
     "encoding": {"x": {"field": "g", "type": "nominal", "title": null}, "y": {"field": "v", "type": "quantitative", "title": "LVESV /ul"}}},
    {"data": {"name": "ann"}, "transform": [{"filter": "datum.p=='C'"}],
     "mark": {"type": "text", "font": "Liberation Sans", "fontSize": 16, "color": "black", "baseline": "middle"},
     "encoding": {"x": {"field": "g", "type": "nominal", "title": null}, "y": {"field": "v", "type": "quantitative", "title": "LVESV /ul"}, "text": {"field": "t"}}},
    {"data": {"name": "brk"}, "transform": [{"filter": "datum.p=='C'"}],
     "mark": {"type": "rule", "color": "black", "strokeWidth": 2},
     "encoding": {"x": {"field": "a", "type": "nominal", "title": null}, "x2": {"field": "b"}, "y": {"field": "y", "type": "quantitative", "title": "LVESV /ul"}}},
    {"data": {"name": "brk"}, "transform": [{"filter": "datum.p=='C'"}],
     "mark": {"type": "rule", "color": "black", "strokeWidth": 2},
     "encoding": {"x": {"field": "a", "type": "nominal", "title": null}, "y": {"field": "y", "type": "quantitative", "title": "LVESV /ul"}, "y2": {"field": "y0"}}},
    {"data": {"name": "brk"}, "transform": [{"filter": "datum.p=='C'"}],
     "mark": {"type": "rule", "color": "black", "strokeWidth": 2},
     "encoding": {"x": {"field": "b", "type": "nominal", "title": null}, "y": {"field": "y", "type": "quantitative", "title": "LVESV /ul"}, "y2": {"field": "y0"}}},
    {"data": {"name": "brk"}, "transform": [{"filter": "datum.p=='C'"}],
     "mark": {"type": "text", "font": "Liberation Sans", "fontSize": 16, "color": "black", "dx": 25, "baseline": "middle"},
     "encoding": {"x": {"field": "a", "type": "nominal", "title": null}, "y": {"field": "ty", "type": "quantitative", "title": "LVESV /ul"}, "text": {"field": "t"}}},
    {"data": {"values": [{"t": "C"}]},
     "mark": {"type": "text", "fontSize": 38, "fontWeight": "bold", "color": "black", "dx": -83, "dy": 11, "baseline": "middle", "align": "center"},
     "encoding": {"x": {"datum": "S2 fl/fl pre"}, "y": {"datum": 0}, "text": {"field": "t"}}}
   ]},
  {"width": 318, "height": 220, "title": {"text": "Heart Rate", "offset": 8},
   "layer": [
    {"data": {"name": "pts"}, "transform": [{"filter": "datum.p=='D'"}],
     "mark": {"type": "bar", "stroke": "black", "strokeWidth": 3},
     "encoding": {
      "x": {"field": "g", "type": "nominal", "scale": {"domain": ["S2 fl/fl pre","FS2KO pre","S2 fl/fl 7D","FS2KO 7D","S2 fl/fl 28D","FS2KO 28D"], "paddingInner": 0.4, "paddingOuter": 0.4}, "axis": {"title": null, "labelAngle": -45, "labelFontSize": 16}},
      "y": {"aggregate": "mean", "field": "v", "type": "quantitative", "title": "Heart Rate beats/ min", "scale": {"domain": [0, 800]}, "axis": {"titleFontSize": 18, "values": [0,200,400,600,800]}},
      "fill": {"condition": {"test": "indexof(datum.g,'FS2KO')>=0", "value": "#d3d3d3"}, "value": "white"}}},
    {"data": {"name": "pts"}, "transform": [{"filter": "datum.p=='D' && datum.g!='FS2KO 28D'"}, {"window": [{"op": "row_number", "as": "rk"}], "groupby": ["g"], "sort": [{"field": "v"}]}, {"calculate": "[2,1,3,0,4][datum.rk % 5]", "as": "col"}],
     "mark": {"type": "point", "filled": true, "color": "black", "opacity": 1, "size": 85},
     "encoding": {"x": {"field": "g", "type": "nominal", "title": null}, "xOffset": {"field": "col", "type": "ordinal", "scale": {"domain": [0,1,2,3,4]}}, "y": {"field": "v", "type": "quantitative", "title": "Heart Rate beats/ min"},
      "shape": {"field": "g", "type": "nominal", "scale": {"domain": ["S2 fl/fl pre","FS2KO pre","S2 fl/fl 7D","FS2KO 7D","S2 fl/fl 28D"], "range": ["circle","triangle-down","square","diamond","triangle-up"]}, "legend": null}}},
    {"data": {"name": "pts"}, "transform": [{"filter": "datum.p=='D' && datum.g=='FS2KO 28D'"}, {"window": [{"op": "row_number", "as": "rk"}], "groupby": ["g"], "sort": [{"field": "v"}]}, {"calculate": "[2,1,3,0,4][datum.rk % 5]", "as": "col"}],
     "mark": {"type": "point", "shape": "circle", "filled": false, "stroke": "#9a9a9a", "strokeWidth": 2, "opacity": 1, "size": 85},
     "encoding": {"x": {"field": "g", "type": "nominal", "title": null}, "xOffset": {"field": "col", "type": "ordinal"}, "y": {"field": "v", "type": "quantitative", "title": "Heart Rate beats/ min"}}},
    {"data": {"name": "pts"}, "transform": [{"filter": "datum.p=='D'"}],
     "mark": {"type": "errorbar", "extent": "stderr", "color": "black", "thickness": 2, "ticks": {"size": 14, "thickness": 2, "color": "black"}},
     "encoding": {"x": {"field": "g", "type": "nominal", "title": null}, "y": {"field": "v", "type": "quantitative", "title": "Heart Rate beats/ min"}}},
    {"data": {"name": "ann"}, "transform": [{"filter": "datum.p=='D'"}],
     "mark": {"type": "text", "font": "Liberation Sans", "fontSize": 16, "color": "black", "baseline": "middle"},
     "encoding": {"x": {"field": "g", "type": "nominal", "title": null}, "y": {"field": "v", "type": "quantitative", "title": "Heart Rate beats/ min"}, "text": {"field": "t"}}},
    {"data": {"values": [{"t": "D"}]},
     "mark": {"type": "text", "fontSize": 38, "fontWeight": "bold", "color": "black", "dx": -83, "dy": 13, "baseline": "middle", "align": "center"},
     "encoding": {"x": {"datum": "S2 fl/fl pre"}, "y": {"datum": 0}, "text": {"field": "t"}}}
   ]}
 ], "spacing": 48, "resolve": {"scale": {"shape": "independent", "xOffset": "independent"}}}
]
}
